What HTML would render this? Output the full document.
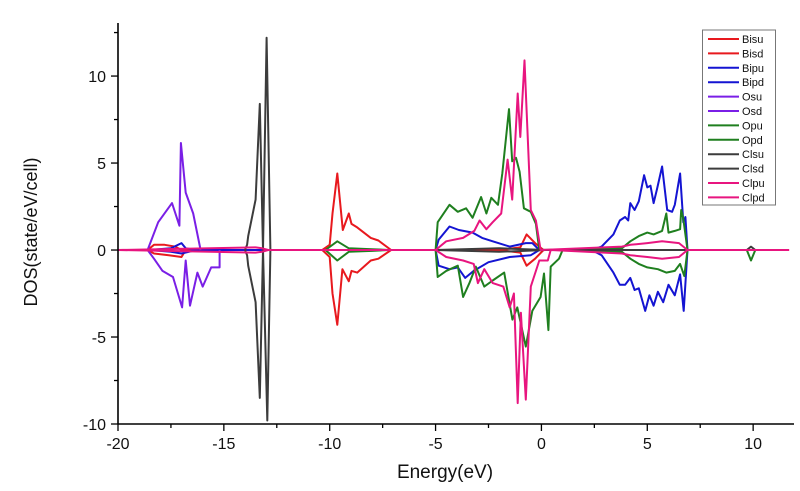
<!DOCTYPE html>
<html><head><meta charset="utf-8"><style>
html,body{margin:0;padding:0;background:#fff;}
svg{display:block;font-family:"Liberation Sans",Arial,sans-serif;}
</style></head><body>
<svg id="chart" width="800" height="491" viewBox="0 0 800 491" xmlns="http://www.w3.org/2000/svg">
<g id="series"></g>
<g id="axes"></g>
<g id="legend"></g>
</svg>
<script>
// ---- data ----
const xTicks=[-20,-15,-10,-5,0,5,10];
const yTicks=[-10,-5,0,5,10];
const seriesNames=["Bisu","Bisd","Bipu","Bipd","Osu","Osd","Opu","Opd","Clsu","Clsd","Clpu","Clpd"];
const bisuE=[-18.6,-18.3,-17.8,-17.3,-17.0,-10.35,-10.0,-9.87,-9.64,-9.38,-9.1,-8.97,-8.7,-8.06,-7.7,-7.1,-2.0,-1.0,-0.7,-0.3,0.1];
const bisuV=[0,0.3,0.3,0.2,0,0,0.3,2.1,4.4,1.15,2.1,1.5,1.3,0.7,0.55,0,0,0.15,0.9,0.4,0];
const bisdE=[-18.6,-18.3,-17.6,-17.0,-16.8,-10.35,-10.0,-9.87,-9.64,-9.4,-9.1,-8.97,-8.7,-8.06,-7.7,-7.1,-2.0,-1.0,-0.7,-0.3,0.1];
const bisdV=[0,-0.2,-0.3,-0.4,0,0,-0.4,-2.5,-4.3,-1.1,-1.8,-1.2,-1.3,-0.6,-0.5,0,0,-0.15,-0.9,-0.5,0];
const bipuE=[-18.5,-17.5,-17.0,-16.8,-16.3,-5.0,-4.85,-4.34,-3.9,-3.25,-2.8,-2.3,-1.5,-0.74,-0.43,-0.1,2.37,2.84,3.4,3.7,3.95,4.1,4.2,4.4,4.6,4.85,5.0,5.15,5.3,5.46,5.7,5.94,6.17,6.3,6.55,6.7,6.8,6.9];
const bipuV=[0,0.1,0.4,0.1,0,0,0.6,1.35,1.15,1.0,0.7,0.5,0.2,0.4,0.4,0,0,0.2,0.9,1.7,1.9,1.7,2.7,2.3,2.8,4.3,3.6,3.7,2.7,3.5,4.8,2.3,2.2,2.6,4.4,1.6,1.9,0];
const bipdE=[-18.5,-17.5,-17.0,-16.3,-5.0,-4.85,-4.34,-3.95,-3.6,-3.2,-2.5,-1.5,-0.5,-0.1,2.37,2.84,3.4,3.7,3.95,4.2,4.4,4.6,4.9,5.1,5.3,5.5,5.75,6.0,6.3,6.55,6.72,6.9];
const bipdV=[0,-0.1,-0.2,0,0,-0.9,-1.1,-1.0,-1.6,-1.2,-0.7,-0.4,-0.3,0,0,-0.3,-1.3,-2.0,-2.0,-1.6,-2.3,-2.2,-3.5,-2.6,-3.2,-2.4,-3.0,-2.0,-2.6,-1.4,-3.5,0];
const osuE=[-18.6,-18.1,-17.45,-17.1,-17.03,-16.8,-16.45,-16.1];
const osuV=[0,1.6,2.7,1.4,6.15,3.3,2.1,0];
const osdE=[-18.6,-18.3,-17.9,-17.4,-16.97,-16.8,-16.6,-16.25,-16.0,-15.6,-15.2,-15.2];
const osdV=[0,-0.5,-1.2,-1.55,-3.3,-0.6,-3.2,-1.3,-2.1,-1.0,-1.0,0];
const opuE=[-10.2,-9.64,-9.1,-8.0,-7.2,-5.0,-4.9,-4.34,-3.95,-3.56,-3.25,-2.85,-2.6,-2.37,-2.05,-1.85,-1.53,-1.38,-1.2,-1.03,-0.83,-0.5,-0.26,-0.1,3.8,4.2,4.6,5.0,5.3,5.7,5.9,6.0,6.3,6.55,6.6,6.7,6.9];
const opuV=[0,0.5,0.1,0.05,0,0,1.6,2.6,2.2,2.4,1.85,3.05,2.1,3.0,2.6,4.4,8.1,5.1,5.3,4.5,2.4,2.2,1.5,0,0.1,0.5,0.8,1.0,0.9,1.1,2.1,1.0,1.1,1.2,2.3,1.8,0];
const opdE=[-10.2,-9.64,-9.1,-8.0,-7.2,-5.0,-4.9,-4.5,-3.95,-3.7,-3.4,-3.1,-2.7,-2.3,-1.76,-1.37,-1.14,-0.74,-0.43,-0.04,0.12,0.33,0.44,0.83,1.0,3.8,4.2,4.6,5.0,5.5,5.9,6.3,6.55,6.75,6.9,9.7,9.9,10.1];
const opdV=[0,-0.6,-0.1,-0.05,0,0,-1.55,-1.2,-0.9,-2.7,-1.9,-0.95,-2.1,-1.75,-1.3,-4.0,-3.3,-5.55,-3.5,-2.7,-1.35,-4.6,-0.95,-0.5,0,-0.1,-0.5,-0.8,-1.0,-1.1,-1.3,-1.2,-0.8,-1.5,0,0,-0.6,0];
const clsuE=[-14.0,-13.9,-13.85,-13.5,-13.3,-13.15,-12.98,-12.8,-5.0,-2.0,0.2,9.7,9.9,10.1];
const clsuV=[0,0.3,0.8,2.9,8.4,0,12.2,0,0,0.1,0,0,0.2,0];
const clsdE=[-14.0,-13.9,-13.85,-13.5,-13.3,-13.15,-12.95,-12.8,-5.0,-2.0,0.2];
const clsdV=[0,-0.3,-0.9,-3.0,-8.5,0,-9.8,0,0,-0.1,0];
const clpuE=[-20,-13.5,-13.2,-12.9,-5.0,-4.5,-3.7,-3.17,-2.92,-2.6,-2.3,-1.9,-1.6,-1.38,-1.12,-1.0,-0.8,-0.5,-0.26,-0.04,3.8,4.2,5.0,5.7,6.5,6.9,11.7];
const clpuV=[0,0.15,0.1,0,0,0.5,0.7,1.1,1.7,1.2,1.6,2.1,5.2,2.9,9.0,6.5,10.9,2.3,1.7,0,0.2,0.3,0.4,0.5,0.4,0,0];
const clpdE=[-20,-13.5,-13.2,-12.9,-5.0,-4.5,-3.7,-3.2,-3.0,-2.7,-2.3,-1.8,-1.5,-1.3,-1.12,-0.97,-0.74,-0.5,-0.1,0.3,0.44,3.8,4.2,5.0,5.7,6.5,6.9,11.7];
const clpdV=[0,-0.15,-0.1,0,0,-0.4,-0.6,-0.8,-1.9,-1.1,-1.9,-2.1,-3.3,-2.5,-8.8,-3.6,-8.6,-2.1,-0.6,-0.6,0,-0.2,-0.3,-0.4,-0.5,-0.4,0,0];

// ---- scales ----
const X0=118, X1=794, Y0=424, Y1=23;
const xMin=-20, xMax=11.93, yMin=-10, yMax=13.05;
const xs=v=>X0+(v-xMin)*(X1-X0)/(xMax-xMin);
const ys=v=>Y0-(v-yMin)*(Y0-Y1)/(yMax-yMin);
const NS="http://www.w3.org/2000/svg";
function mk(tag,attrs,parent){const e=document.createElementNS(NS,tag);for(const k in attrs)e.setAttribute(k,attrs[k]);parent.appendChild(e);return e;}

const colors={Bisu:"#e8191e",Bisd:"#e8191e",Bipu:"#1414d2",Bipd:"#1414d2",Osu:"#7a1fe6",Osd:"#7a1fe6",Opu:"#1f7f1f",Opd:"#1f7f1f",Clsu:"#3c3c3c",Clsd:"#3c3c3c",Clpu:"#e8157f",Clpd:"#e8157f"};
const data={Bisu:[bisuE,bisuV],Bisd:[bisdE,bisdV],Bipu:[bipuE,bipuV],Bipd:[bipdE,bipdV],Osu:[osuE,osuV],Osd:[osdE,osdV],Opu:[opuE,opuV],Opd:[opdE,opdV],Clsu:[clsuE,clsuV],Clsd:[clsdE,clsdV],Clpu:[clpuE,clpuV],Clpd:[clpdE,clpdV]};
const order=["Bisu","Bisd","Bipu","Bipd","Osu","Osd","Opu","Opd","Clsu","Clsd","Clpu","Clpd"];

const sg=document.getElementById('series');
order.forEach(n=>{
  const [E,V]=data[n];
  const d=E.map((e,i)=>(i?'L':'M')+xs(e).toFixed(1)+','+ys(V[i]).toFixed(1)).join('');
  const p=mk('path',{d:d,fill:'none',stroke:colors[n],'stroke-width':2,'stroke-linejoin':'round'},sg);
  
  
});

// ---- axes ----
const ag=document.getElementById('axes');
const xa=mk('line',{x1:X0,y1:Y0,x2:X1,y2:Y0,stroke:'#000','stroke-width':1.6},ag);


const ya=mk('line',{x1:X0,y1:Y0,x2:X0,y2:Y1,stroke:'#000','stroke-width':1.6},ag);


for(let v=-20;v<=11.5;v+=2.5){
  const major=xTicks.includes(v);
  const t=mk('line',{x1:xs(v),y1:Y0,x2:xs(v),y2:Y0+(major?7:4),stroke:'#000','stroke-width':1.3},ag);
  
  
}
xTicks.forEach(v=>{
  const t=mk('text',{x:xs(v),y:449,'font-size':16,'text-anchor':'middle',fill:'#111'},ag);
  t.textContent=v;
  
  
});
for(let v=-10;v<=12.5;v+=2.5){
  const major=yTicks.includes(v);
  const t=mk('line',{x1:X0,y1:ys(v),x2:X0-(major?7:4),y2:ys(v),stroke:'#000','stroke-width':1.3},ag);
  
  
}
yTicks.forEach(v=>{
  const t=mk('text',{x:106,y:ys(v)+6,'font-size':16,'text-anchor':'end',fill:'#111'},ag);
  t.textContent=v;
  
  
});
const xt=mk('text',{x:445,y:478,'font-size':19,'text-anchor':'middle',fill:'#111'},ag);
xt.textContent='Energy(eV)';


const yt=mk('text',{x:0,y:0,'font-size':18,'text-anchor':'middle',fill:'#111',transform:'translate(37,232) rotate(-90)'},ag);
yt.textContent='DOS(state/eV/cell)';



// ---- legend ----
const lg=document.getElementById('legend');
const box=mk('rect',{x:702.5,y:30,width:73,height:175,fill:'#fff',stroke:'#777','stroke-width':1},lg);


seriesNames.forEach((n,i)=>{
  const y=39+i*14.4;
  const g=mk('g',{},lg);
  
  
  mk('line',{x1:708,y1:y,x2:739,y2:y,stroke:colors[n],'stroke-width':2},g);
  const t=mk('text',{x:742,y:y+4,'font-size':11,fill:'#111'},g);
  t.textContent=n;
});
</script>
</body></html>
